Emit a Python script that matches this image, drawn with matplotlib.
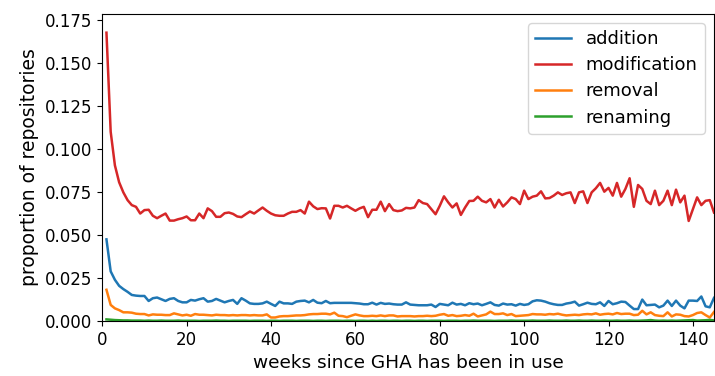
import matplotlib
matplotlib.use("Agg")
import matplotlib.pyplot as plt
import numpy as np
from matplotlib.ticker import MultipleLocator, FormatStrFormatter

# proportion of repositories with each kind of workflow change, per week
addition = [
    0.0475, 0.0289, 0.0240, 0.0205, 0.0186, 0.0170, 0.0152, 0.0148, 0.0146, 0.0146,
    0.0117, 0.0133, 0.0137, 0.0127, 0.0117, 0.0129, 0.0133, 0.0117, 0.0109, 0.0109,
    0.0123, 0.0119, 0.0127, 0.0133, 0.0113, 0.0117, 0.0129, 0.0119, 0.0109, 0.0117,
    0.0123, 0.0100, 0.0133, 0.0119, 0.0103, 0.0100, 0.0100, 0.0103, 0.0113, 0.0100,
    0.0088, 0.0113, 0.0103, 0.0103, 0.0100, 0.0113, 0.0117, 0.0119, 0.0109, 0.0123,
    0.0107, 0.0104, 0.0117, 0.0104, 0.0106, 0.0106, 0.0106, 0.0106, 0.0106, 0.0104,
    0.0102, 0.0098, 0.0098, 0.0107, 0.0096, 0.0106, 0.0100, 0.0102, 0.0098, 0.0096,
    0.0096, 0.0109, 0.0096, 0.0094, 0.0092, 0.0092, 0.0092, 0.0096, 0.0082, 0.0100,
    0.0096, 0.0092, 0.0107, 0.0096, 0.0100, 0.0092, 0.0104, 0.0098, 0.0102, 0.0092,
    0.0100, 0.0109, 0.0094, 0.0090, 0.0102, 0.0096, 0.0098, 0.0090, 0.0100, 0.0094,
    0.0098, 0.0115, 0.0121, 0.0119, 0.0113, 0.0104, 0.0098, 0.0094, 0.0094, 0.0102,
    0.0106, 0.0113, 0.0090, 0.0098, 0.0107, 0.0100, 0.0098, 0.0109, 0.0088, 0.0117,
    0.0098, 0.0104, 0.0113, 0.0111, 0.0090, 0.0070, 0.0070, 0.0125, 0.0092, 0.0094,
    0.0096, 0.0080, 0.0090, 0.0119, 0.0088, 0.0119, 0.0090, 0.0074, 0.0119, 0.0119,
    0.0117, 0.0143, 0.0086, 0.0080, 0.0135,
]
modification = [
    0.1676, 0.1100, 0.0905, 0.0807, 0.0748, 0.0703, 0.0674, 0.0664, 0.0625, 0.0645,
    0.0647, 0.0612, 0.0598, 0.0612, 0.0625, 0.0584, 0.0584, 0.0592, 0.0598, 0.0608,
    0.0586, 0.0586, 0.0625, 0.0598, 0.0655, 0.0639, 0.0606, 0.0606, 0.0627, 0.0631,
    0.0623, 0.0608, 0.0604, 0.0621, 0.0637, 0.0625, 0.0643, 0.0660, 0.0641, 0.0625,
    0.0615, 0.0612, 0.0612, 0.0625, 0.0635, 0.0635, 0.0645, 0.0625, 0.0694, 0.0667,
    0.0651, 0.0656, 0.0655, 0.0596, 0.0670, 0.0670, 0.0660, 0.0670, 0.0655, 0.0641,
    0.0655, 0.0664, 0.0604, 0.0647, 0.0647, 0.0694, 0.0639, 0.0680, 0.0645, 0.0639,
    0.0643, 0.0658, 0.0655, 0.0660, 0.0703, 0.0686, 0.0680, 0.0651, 0.0621, 0.0670,
    0.0725, 0.0690, 0.0660, 0.0684, 0.0617, 0.0660, 0.0698, 0.0699, 0.0723, 0.0699,
    0.0690, 0.0709, 0.0660, 0.0705, 0.0666, 0.0690, 0.0719, 0.0709, 0.0680, 0.0758,
    0.0709, 0.0723, 0.0729, 0.0754, 0.0713, 0.0715, 0.0729, 0.0748, 0.0733, 0.0743,
    0.0748, 0.0686, 0.0748, 0.0754, 0.0686, 0.0748, 0.0772, 0.0803, 0.0752, 0.0774,
    0.0729, 0.0803, 0.0723, 0.0768, 0.0830, 0.0664, 0.0791, 0.0768, 0.0699, 0.0680,
    0.0758, 0.0674, 0.0699, 0.0758, 0.0674, 0.0764, 0.0690, 0.0729, 0.0582, 0.0651,
    0.0719, 0.0674, 0.0699, 0.0703, 0.0631,
]
removal = [
    0.0182, 0.0094, 0.0074, 0.0064, 0.0051, 0.0051, 0.0049, 0.0043, 0.0041, 0.0041,
    0.0033, 0.0039, 0.0037, 0.0037, 0.0035, 0.0035, 0.0045, 0.0039, 0.0033, 0.0037,
    0.0031, 0.0041, 0.0037, 0.0037, 0.0035, 0.0033, 0.0037, 0.0035, 0.0035, 0.0033,
    0.0035, 0.0033, 0.0035, 0.0035, 0.0033, 0.0035, 0.0033, 0.0033, 0.0039, 0.0021,
    0.0021, 0.0027, 0.0029, 0.0029, 0.0031, 0.0033, 0.0033, 0.0035, 0.0039, 0.0041,
    0.0041, 0.0043, 0.0043, 0.0039, 0.0049, 0.0031, 0.0029, 0.0023, 0.0031, 0.0039,
    0.0033, 0.0029, 0.0029, 0.0031, 0.0029, 0.0033, 0.0029, 0.0033, 0.0033, 0.0027,
    0.0029, 0.0029, 0.0029, 0.0027, 0.0029, 0.0029, 0.0031, 0.0029, 0.0031, 0.0037,
    0.0041, 0.0031, 0.0035, 0.0029, 0.0031, 0.0035, 0.0031, 0.0043, 0.0027, 0.0033,
    0.0039, 0.0055, 0.0041, 0.0041, 0.0045, 0.0035, 0.0041, 0.0029, 0.0031, 0.0033,
    0.0035, 0.0041, 0.0039, 0.0039, 0.0037, 0.0041, 0.0039, 0.0043, 0.0037, 0.0033,
    0.0035, 0.0037, 0.0035, 0.0039, 0.0041, 0.0039, 0.0045, 0.0037, 0.0041, 0.0043,
    0.0039, 0.0047, 0.0041, 0.0043, 0.0043, 0.0035, 0.0037, 0.0060, 0.0039, 0.0051,
    0.0035, 0.0031, 0.0029, 0.0051, 0.0027, 0.0039, 0.0037, 0.0029, 0.0027, 0.0035,
    0.0047, 0.0051, 0.0035, 0.0021, 0.0053,
]
renaming = [
    0.0010, 0.0008, 0.0006, 0.0005, 0.0004, 0.0004, 0.0003, 0.0003, 0.0003, 0.0002,
    0.0003, 0.0002, 0.0002, 0.0003, 0.0002, 0.0002, 0.0002, 0.0003, 0.0002, 0.0002,
    0.0002, 0.0002, 0.0001, 0.0002, 0.0002, 0.0002, 0.0003, 0.0002, 0.0002, 0.0001,
    0.0002, 0.0002, 0.0002, 0.0002, 0.0001, 0.0002, 0.0002, 0.0002, 0.0001, 0.0002,
    0.0002, 0.0001, 0.0002, 0.0002, 0.0002, 0.0001, 0.0002, 0.0002, 0.0002, 0.0001,
    0.0002, 0.0002, 0.0001, 0.0002, 0.0002, 0.0002, 0.0001, 0.0002, 0.0002, 0.0001,
    0.0002, 0.0002, 0.0001, 0.0002, 0.0001, 0.0002, 0.0002, 0.0001, 0.0002, 0.0002,
    0.0001, 0.0002, 0.0002, 0.0001, 0.0002, 0.0002, 0.0001, 0.0002, 0.0002, 0.0002,
    0.0001, 0.0002, 0.0002, 0.0002, 0.0001, 0.0002, 0.0002, 0.0003, 0.0002, 0.0002,
    0.0002, 0.0002, 0.0001, 0.0002, 0.0002, 0.0002, 0.0003, 0.0002, 0.0002, 0.0002,
    0.0002, 0.0003, 0.0002, 0.0002, 0.0002, 0.0003, 0.0002, 0.0002, 0.0002, 0.0003,
    0.0002, 0.0002, 0.0003, 0.0002, 0.0002, 0.0003, 0.0002, 0.0002, 0.0003, 0.0002,
    0.0002, 0.0003, 0.0002, 0.0002, 0.0003, 0.0002, 0.0002, 0.0003, 0.0004, 0.0006,
    0.0003, 0.0002, 0.0003, 0.0002, 0.0003, 0.0002, 0.0003, 0.0004, 0.0005, 0.0006,
    0.0003, 0.0004, 0.0005, 0.0007, 0.0004,
]

series = [
    ("addition", addition, "tab:blue"),
    ("modification", modification, "tab:red"),
    ("removal", removal, "tab:orange"),
    ("renaming", renaming, "tab:green"),
]

plt.rcParams["font.family"] = ["DejaVu Sans"]
plt.rcParams["font.size"] = 12

fig, ax = plt.subplots(figsize=(7.15, 3.76), dpi=100)
fig.subplots_adjust(left=0.143, right=0.9986, bottom=0.146, top=0.963)

for name, values, color in series:
    weeks = np.arange(1, len(values) + 1)
    ax.plot(weeks, values, label=name, color=color, linewidth=1.8)

ax.set_xlim(0, 145)
ax.set_ylim(0, 0.1785)
ax.yaxis.set_major_locator(MultipleLocator(0.025))
ax.yaxis.set_major_formatter(FormatStrFormatter("%.3f"))
ax.xaxis.set_major_locator(MultipleLocator(20))
ax.set_xlabel("weeks since GHA has been in use", fontsize=13.3)
ax.set_ylabel("proportion of repositories", fontsize=13.5)
ax.legend(loc="upper right", fontsize=13, labelspacing=0.45)

fig.savefig("out.png", dpi=100)
